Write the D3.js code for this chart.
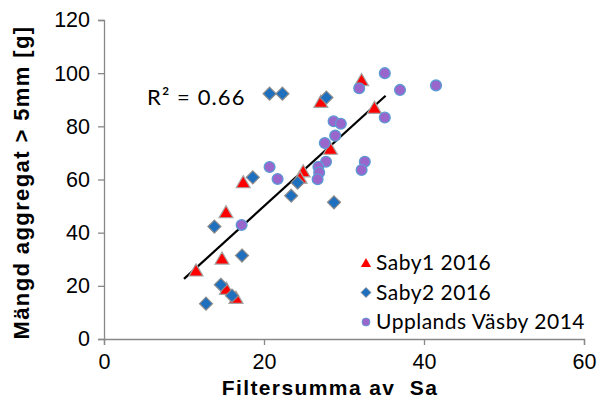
<!DOCTYPE html>
<html><head><meta charset="utf-8">
<script src="https://cdn.jsdelivr.net/npm/d3@7"></script>
<style>body{margin:0;background:#fff}svg{display:block}</style>
</head><body>
<script>
// ---- data ----
const saby1X = [32.2, 27.1, 33.8, 28.3, 24.9, 24.5, 17.4, 15.25, 14.75, 11.5, 15.3, 16.5];
const saby1Y = [97.2, 89.0, 86.8, 71.4, 62.9, 60.5, 58.8, 47.5, 30.1, 25.6, 18.7, 15.3];
const saby2X = [20.7, 22.3, 27.8, 18.6, 24.2, 23.4, 28.75, 13.8, 17.25, 14.6, 16.0, 12.75];
const saby2Y = [92.3, 92.3, 90.8, 60.8, 58.8, 53.9, 51.4, 42.3, 31.4, 20.4, 16.3, 13.3];
const upplX = [35.1, 31.9, 37.0, 41.5, 35.1, 28.7, 29.6, 28.9, 27.6, 27.75, 26.8, 26.9, 26.7, 32.6, 32.2, 20.7, 21.7, 17.2];
const upplY = [100.0, 94.3, 93.7, 95.4, 83.3, 81.9, 81.0, 76.5, 73.7, 66.7, 64.8, 62.6, 60.1, 66.7, 63.6, 64.7, 60.2, 42.9];
const trendX = [10.0, 35.2];
const trendY = [22.6, 91.5];
const xTicks = [0, 20, 40, 60];
const yTicks = [0, 20, 40, 60, 80, 100, 120];
const seriesNames = ["Saby1 2016", "Saby2 2016", "Upplands Väsby 2014"];
const rSquared = "R² = 0.66";
const xTitle = "Filtersumma av  Sa";
const yTitle = "Mängd aggregat > 5mm [g]";

const W = 602, H = 398;
const svg = d3.select("body").append("svg").attr("width", W).attr("height", H);
const x = d3.scaleLinear().domain([0, 60]).range([104, 584]);
const y = d3.scaleLinear().domain([0, 120]).range([339, 20]);
const axisCol = "#888888";
const axisFont = "'Liberation Sans', Arial, sans-serif";
const calib = "Lato, 'Open Sans', sans-serif";

// axes
const xa = svg.append("g").attr("transform", `translate(0,${y(0)})`)
  .call(d3.axisBottom(x).tickValues(xTicks).tickSize(6).tickPadding(9).tickFormat(d3.format("d")));
const ya = svg.append("g").attr("transform", `translate(${x(0)},0)`)
  .call(d3.axisLeft(y).tickValues(yTicks).tickSize(6).tickPadding(8).tickFormat(d3.format("d")));
[xa, ya].forEach(a => {
  a.selectAll("path,line").attr("stroke", axisCol).attr("stroke-width", 1.3);
  a.selectAll("text").attr("font-family", axisFont).attr("font-size", 21.5).attr("fill", "#000");
});

// trendline
svg.append("line")
  .attr("x1", x(trendX[0])).attr("y1", y(trendY[0]))
  .attr("x2", x(trendX[1])).attr("y2", y(trendY[1]))
  .attr("stroke", "#000").attr("stroke-width", 2.2);

// markers
const tri = d3.symbol().type(d3.symbolTriangle).size(85);
const dia = s => `M0,${-s}L${s},0L0,${s}L${-s},0Z`;

const g = svg.append("g");
g.selectAll(".s1").data(saby1X).join("path")
  .attr("transform", (d, i) => `translate(${x(d)},${y(saby1Y[i]) + 1})`)
  .attr("d", tri).attr("fill", "#FF0000").attr("stroke", "#A6A6A6").attr("stroke-width", 1.2);
g.selectAll(".s2").data(saby2X).join("path")
  .attr("transform", (d, i) => `translate(${x(d)},${y(saby2Y[i])})`)
  .attr("d", dia(6.5)).attr("fill", "#1F6FBF").attr("stroke", "#8C8C8C").attr("stroke-width", 1.2);
g.selectAll(".s3").data(upplX).join("circle")
  .attr("cx", d => x(d)).attr("cy", (d, i) => y(upplY[i])).attr("r", 5.4)
  .attr("fill", "#9966CC").attr("stroke", "#5B9BD5").attr("stroke-width", 1.3);

// R2 label
svg.append("text").attr("x", 147).attr("y", 105).text(rSquared)
  .attr("font-family", calib).attr("font-size", 22).attr("letter-spacing", 1.1).attr("fill", "#000");

// legend
const legY = [263, 292.5, 322];
const lx = 366;
const lg = svg.append("g");
lg.append("path").attr("transform", `translate(${lx},${legY[0] + 1})`)
  .attr("d", d3.symbol().type(d3.symbolTriangle).size(45)).attr("fill", "#FF0000");
lg.append("path").attr("transform", `translate(${lx},${legY[1]})`)
  .attr("d", dia(5)).attr("fill", "#1F6FBF").attr("stroke", "#8C8C8C").attr("stroke-width", 0.8);
lg.append("circle").attr("cx", lx).attr("cy", legY[2]).attr("r", 4)
  .attr("fill", "#9966CC").attr("stroke", "#5B9BD5").attr("stroke-width", 0.8);
seriesNames.forEach((n, i) => {
  lg.append("text").attr("x", lx + 10).attr("y", legY[i]).attr("dy", "0.35em").text(n)
    .attr("font-family", calib).attr("font-size", 21).attr("letter-spacing", 0.5).attr("fill", "#000");
});

// titles
svg.append("text").attr("x", 330).attr("y", 395).attr("text-anchor", "middle").text(xTitle)
  .attr("font-family", axisFont).attr("font-weight", "bold").attr("font-size", 21)
  .attr("letter-spacing", 1.4).style("white-space", "pre");
svg.append("text").attr("transform", "translate(28.5,182.5) rotate(-90)").attr("text-anchor", "middle")
  .text(yTitle).attr("font-family", axisFont).attr("font-weight", "bold").attr("font-size", 22)
  .attr("letter-spacing", 1.4);
</script>
</body></html>
